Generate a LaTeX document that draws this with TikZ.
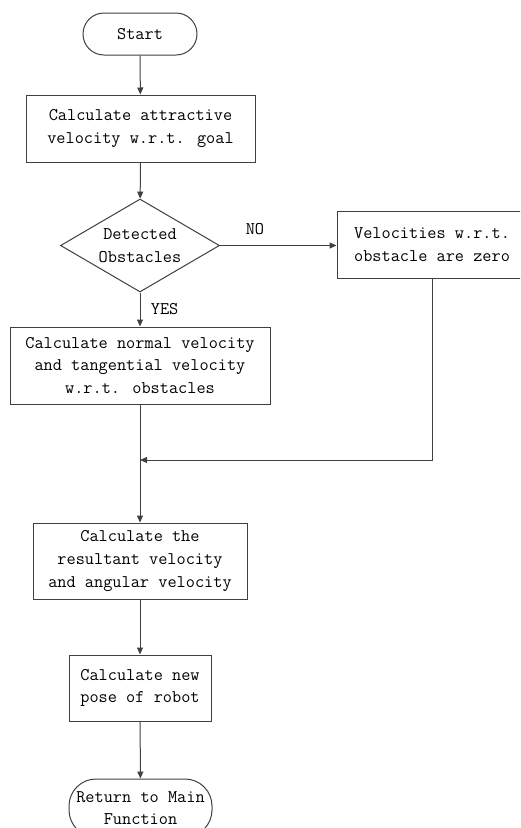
\documentclass[tikz,border=0pt]{standalone}
\usepackage{fontspec}
\usetikzlibrary{arrows.meta,shapes.geometric}
\begin{document}
\begin{tikzpicture}[x=1pt,y=1pt,
  every node/.style={font=\ttfamily\fontsize{17.8}{22.6}\selectfont, text=black},
  line/.style={draw=black!75, line width=1pt},
  flow/.style={line, -{Triangle[length=7pt,width=6pt]}},
  procbox/.style={line, rectangle, align=center, inner sep=0pt},
  term/.style={line, rectangle, rounded corners=21pt, align=center, inner sep=0pt},
  decision/.style={line, diamond, align=center, inner sep=0pt},
  tag/.style={font=\ttfamily\fontsize{17.8}{18}\selectfont}]
  \clip (0,0) rectangle (520,-828);
  \fill[white] (0,0) rectangle (520,-828);

  % main column
  \node[term, minimum width=114pt, minimum height=42pt] (start) at (140,-34) {Start};
  \node[procbox, minimum width=229pt, minimum height=67pt] (goal) at (140.5,-128.5)
    {Calculate attractive\\velocity w.r.t. goal};
  \node[decision, minimum width=159pt, minimum height=93pt, aspect=1.71] (detect) at (140,-245.5)
    {Detected\\Obstacles};
  \node[procbox, minimum width=190pt, minimum height=67pt] (zero) at (432,-244.5)
    {Velocities w.r.t.\\obstacle are zero};
  \node[procbox, minimum width=260pt, minimum height=77pt] (normal) at (140,-365.5)
    {Calculate normal velocity\\and tangential velocity\\w.r.t. obstacles};
  \coordinate (merge) at (140,-460);
  \node[procbox, minimum width=214pt, minimum height=76pt] (result) at (140,-561)
    {Calculate the\\resultant velocity\\and angular velocity};
  \node[procbox, minimum width=142pt, minimum height=66pt] (pose) at (140,-688)
    {Calculate new\\pose of robot};
  \node[term, rounded corners=27pt, minimum width=143pt, minimum height=58pt] (finish) at (140.5,-808)
    {Return to Main\\Function};

  % connectors
  \draw[flow] (start) -- (goal);
  \draw[flow] (goal) -- (detect);
  \draw[flow] (detect.east) -- (detect.east -| zero.west)
    node[tag, pos=0.3, above=7pt] (no) {NO};
  \draw[flow] (detect.south) -- (normal.north)
    node[tag, pos=0.5, right=7pt] (yes) {YES};
  \draw[flow] (zero.south) |- (merge);
  \draw[flow] (normal.south) -- (result.north);
  \draw[flow] (result) -- (pose);
  \draw[flow] (pose) -- (finish);
\end{tikzpicture}
\end{document}
